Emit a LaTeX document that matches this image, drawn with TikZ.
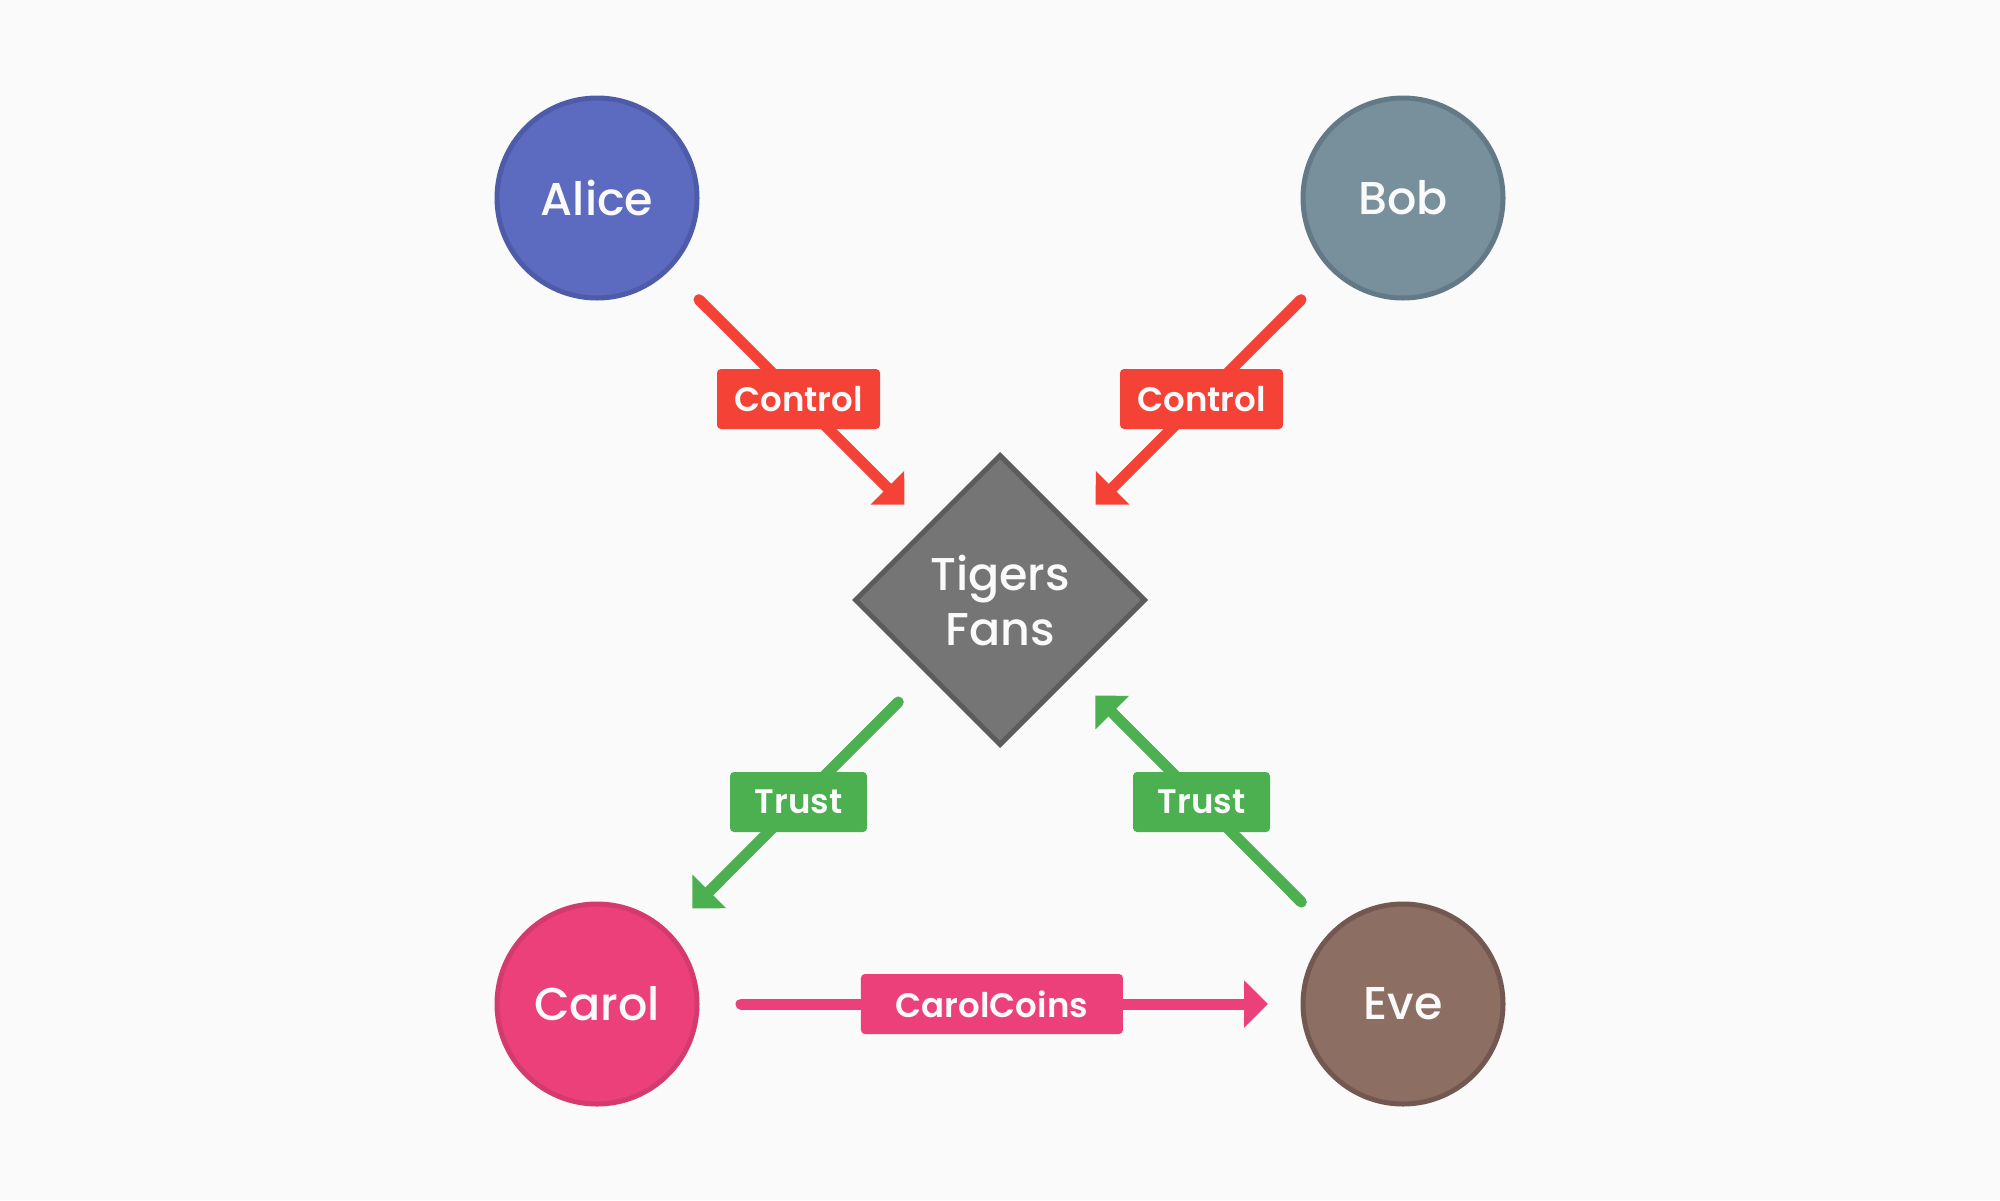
\documentclass[tikz,border=0pt]{standalone}
\usepackage{fontspec}
\setmainfont{Poppins}
\newfontfamily\medfont{Poppins Medium}
\newfontfamily\semifont{Poppins SemiBold}
\usetikzlibrary{shapes.geometric,arrows.meta}
\definecolor{bg}{HTML}{FAFAFA}
\definecolor{txt}{HTML}{FAFAFA}
\definecolor{alicefill}{HTML}{5C6BC0}
\definecolor{aliceedge}{HTML}{4E5BA8}
\definecolor{bobfill}{HTML}{78909C}
\definecolor{bobedge}{HTML}{637985}
\definecolor{carolfill}{HTML}{EC407A}
\definecolor{caroledge}{HTML}{D43A6E}
\definecolor{evefill}{HTML}{8D6E63}
\definecolor{eveedge}{HTML}{725850}
\definecolor{tigfill}{HTML}{757575}
\definecolor{tigedge}{HTML}{5C5C5C}
\definecolor{ctrlred}{HTML}{F44336}
\definecolor{trustgreen}{HTML}{4CAF50}
\definecolor{coinpink}{HTML}{EC407A}
\begin{document}
\begin{tikzpicture}[x=0.5pt,y=-0.5pt,
  person/.style={circle,minimum size=100pt,inner sep=0pt,line width=2.5pt,text=txt,
    font=\medfont\fontsize{23}{28}\selectfont},
  groupnode/.style={diamond,minimum width=145.5pt,minimum height=145.5pt,inner sep=0pt,
    line width=2.5pt,text=txt,align=center,font=\medfont\fontsize{23}{27.5}\selectfont},
  lbl/.style={rounded corners=2pt,minimum height=30pt,inner sep=0pt,text=txt,
    font=\semifont\fontsize{17}{20}\selectfont},
  conn/.style={line width=5.5pt,line cap=round,-{Triangle[length=12pt,width=23pt]},
    shorten <=72pt,shorten >=67.5pt},
]
\fill[bg] (0,0) rectangle (2000,1200);
\useasboundingbox (0,0) rectangle (2000,1200);

\node[person,fill=alicefill,draw=aliceedge] (alice) at (597,198) {Alice};
\node[person,fill=bobfill,draw=bobedge] (bob) at (1403,198) {Bob};
\node[person,fill=carolfill,draw=caroledge] (carol) at (597,1004) {Carol};
\node[person,fill=evefill,draw=eveedge] (eve) at (1403,1004) {Eve};
\node[groupnode,fill=tigfill,draw=tigedge] (tigers) at (1000,600) {Tigers\\Fans};

\draw[conn,ctrlred] (alice.center) -- node[lbl,fill=ctrlred,minimum width=81.5pt] (lc1) {Control} (tigers.center);
\draw[conn,ctrlred] (bob.center) -- node[lbl,fill=ctrlred,minimum width=81.5pt] (lc2) {Control} (tigers.center);
\draw[conn,trustgreen] (tigers.center) -- node[lbl,fill=trustgreen,minimum width=68.5pt] (lt1) {Trust} (carol.center);
\draw[conn,trustgreen] (eve.center) -- node[lbl,fill=trustgreen,minimum width=68.5pt] (lt2) {Trust} (tigers.center);
\draw[conn,coinpink] (carol.center) -- node[pos=0.49,lbl,fill=coinpink,minimum width=131pt] (lcc) {CarolCoins} (eve.center);
\end{tikzpicture}
\end{document}
